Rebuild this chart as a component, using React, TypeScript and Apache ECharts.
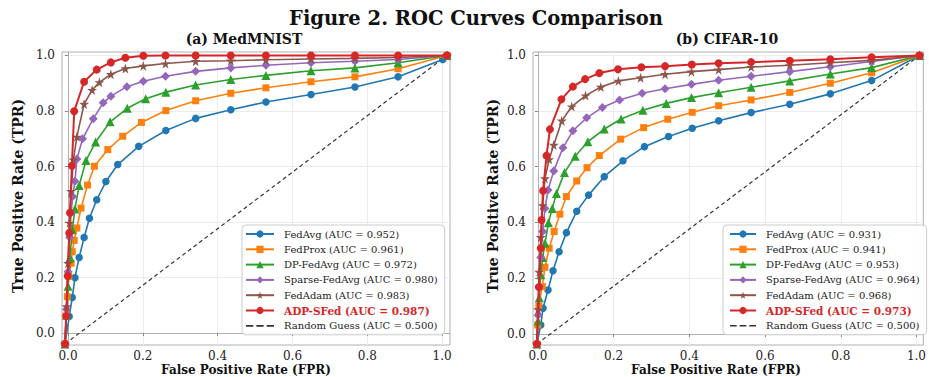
import React, { useEffect, useRef } from 'react';
import * as echarts from 'echarts';

// ---------- data ----------
const methods = ['FedAvg', 'FedProx', 'DP-FedAvg', 'Sparse-FedAvg', 'FedAdam', 'ADP-SFed'];
const aucMed = [0.952, 0.961, 0.972, 0.98, 0.983, 0.987];
const aucCifar = [0.931, 0.941, 0.953, 0.964, 0.968, 0.973];
const tickValues = [0, 0.2, 0.4, 0.6, 0.8, 1.0];
const randomLabel = 'Random Guess (AUC = 0.500)';
const diagonal: [number, number][] = [[0, 0], [1, 1]];

// (a) MedMNIST  [FPR, TPR]
const medFedAvg: [number, number][] = [[0, 0], [0.011, 0.095], [0.019, 0.161], [0.026, 0.23], [0.037, 0.3], [0.05, 0.369], [0.064, 0.436], [0.083, 0.5], [0.107, 0.563], [0.138, 0.622], [0.193, 0.685], [0.264, 0.74], [0.342, 0.782], [0.434, 0.812], [0.526, 0.839], [0.644, 0.865], [0.759, 0.891], [0.872, 0.926], [0.989, 0.986], [1, 1]];
const medFedProx: [number, number][] = [[0, 0], [0.003, 0.097], [0.006, 0.164], [0.01, 0.234], [0.016, 0.28], [0.019, 0.32], [0.024, 0.359], [0.031, 0.402], [0.042, 0.471], [0.059, 0.551], [0.077, 0.616], [0.112, 0.674], [0.151, 0.72], [0.2, 0.768], [0.264, 0.809], [0.342, 0.843], [0.434, 0.869], [0.526, 0.888], [0.644, 0.909], [0.759, 0.926], [0.872, 0.954], [1, 1]];
const medDPFedAvg: [number, number][] = [[0, 0], [0.004, 0.1], [0.008, 0.2], [0.013, 0.3], [0.019, 0.396], [0.026, 0.468], [0.037, 0.549], [0.055, 0.636], [0.08, 0.7], [0.118, 0.77], [0.163, 0.817], [0.211, 0.85], [0.264, 0.873], [0.342, 0.898], [0.434, 0.917], [0.526, 0.931], [0.644, 0.947], [0.759, 0.957], [0.872, 0.975], [1, 1]];
const medSparse: [number, number][] = [[0, 0], [0.004, 0.12], [0.008, 0.25], [0.012, 0.37], [0.016, 0.455], [0.02, 0.511], [0.026, 0.564], [0.031, 0.641], [0.046, 0.711], [0.074, 0.781], [0.1, 0.836], [0.12, 0.859], [0.162, 0.892], [0.205, 0.911], [0.263, 0.928], [0.342, 0.945], [0.434, 0.957], [0.526, 0.966], [0.644, 0.975], [0.759, 0.98], [0.872, 0.986], [1, 1]];
const medFedAdam: [number, number][] = [[0, 0], [0.004, 0.13], [0.008, 0.28], [0.012, 0.42], [0.016, 0.53], [0.022, 0.639], [0.031, 0.718], [0.05, 0.832], [0.071, 0.88], [0.09, 0.907], [0.12, 0.935], [0.158, 0.955], [0.205, 0.964], [0.263, 0.972], [0.342, 0.98], [0.434, 0.982], [0.526, 0.985], [0.644, 0.988], [0.759, 0.99], [0.872, 0.993], [1, 1]];
const medADPSFed: [number, number][] = [[0, 0], [0.003, 0.097], [0.007, 0.236], [0.011, 0.385], [0.013, 0.455], [0.018, 0.618], [0.024, 0.807], [0.05, 0.909], [0.083, 0.951], [0.12, 0.976], [0.158, 0.992], [0.205, 0.999], [0.263, 1.0], [0.342, 1.0], [0.434, 1.0], [0.526, 1.0], [0.644, 1.0], [0.759, 1.0], [0.872, 1.0], [1, 1]];

// (b) CIFAR-10  [FPR, TPR]
const cifFedAvg: [number, number][] = [[0, 0], [0.01, 0.066], [0.016, 0.124], [0.029, 0.187], [0.042, 0.254], [0.058, 0.32], [0.077, 0.386], [0.104, 0.46], [0.135, 0.516], [0.176, 0.58], [0.225, 0.635], [0.281, 0.684], [0.344, 0.719], [0.406, 0.748], [0.475, 0.774], [0.56, 0.802], [0.661, 0.831], [0.767, 0.867], [0.875, 0.913], [1, 1]];
const cifFedProx: [number, number][] = [[0, 0], [0.002, 0.066], [0.005, 0.132], [0.014, 0.199], [0.021, 0.266], [0.032, 0.332], [0.045, 0.39], [0.06, 0.45], [0.077, 0.511], [0.104, 0.565], [0.131, 0.611], [0.163, 0.653], [0.219, 0.71], [0.279, 0.75], [0.342, 0.779], [0.406, 0.803], [0.475, 0.826], [0.56, 0.846], [0.661, 0.872], [0.767, 0.904], [0.875, 0.94], [1, 1]];
const cifDPFedAvg: [number, number][] = [[0, 0], [0.003, 0.08], [0.006, 0.16], [0.01, 0.24], [0.015, 0.3], [0.021, 0.349], [0.03, 0.42], [0.04, 0.47], [0.051, 0.522], [0.072, 0.594], [0.1, 0.651], [0.133, 0.701], [0.176, 0.745], [0.22, 0.78], [0.277, 0.81], [0.338, 0.834], [0.404, 0.854], [0.475, 0.871], [0.56, 0.89], [0.661, 0.912], [0.767, 0.936], [0.875, 0.958], [1, 1]];
const cifSparse: [number, number][] = [[0, 0], [0.003, 0.1], [0.006, 0.2], [0.01, 0.3], [0.015, 0.39], [0.021, 0.47], [0.029, 0.534], [0.044, 0.6], [0.068, 0.68], [0.094, 0.739], [0.13, 0.784], [0.171, 0.82], [0.216, 0.846], [0.275, 0.869], [0.335, 0.885], [0.404, 0.9], [0.475, 0.914], [0.56, 0.928], [0.661, 0.944], [0.767, 0.961], [0.875, 0.979], [1, 1]];
const cifFedAdam: [number, number][] = [[0, 0], [0.003, 0.12], [0.006, 0.25], [0.01, 0.37], [0.015, 0.48], [0.021, 0.574], [0.032, 0.64], [0.044, 0.69], [0.065, 0.774], [0.091, 0.823], [0.127, 0.861], [0.167, 0.891], [0.213, 0.912], [0.271, 0.923], [0.335, 0.935], [0.404, 0.944], [0.475, 0.951], [0.56, 0.96], [0.661, 0.966], [0.767, 0.975], [0.875, 0.983], [1, 1]];
const cifADPSFed: [number, number][] = [[0, 0], [0.005, 0.197], [0.01, 0.332], [0.012, 0.43], [0.016, 0.531], [0.025, 0.653], [0.034, 0.744], [0.064, 0.848], [0.094, 0.892], [0.126, 0.918], [0.163, 0.939], [0.212, 0.952], [0.273, 0.959], [0.335, 0.963], [0.405, 0.969], [0.475, 0.973], [0.56, 0.977], [0.661, 0.982], [0.767, 0.987], [0.875, 0.994], [1, 1]];

const medSeries = [medFedAvg, medFedProx, medDPFedAvg, medSparse, medFedAdam, medADPSFed];
const cifSeries = [cifFedAvg, cifFedProx, cifDPFedAvg, cifSparse, cifFedAdam, cifADPSFed];

// ---------- styles ----------
const FONT = 'DejaVu Serif';
const colors = ['#1f77b4', '#ff7f0e', '#2ca02c', '#9467bd', '#8c564b', '#d62728'];
const STAR = 'path://M50,0 L61,35 L98,35 L68,57 L79,91 L50,70 L21,91 L32,57 L2,35 L39,35 Z';
const symbols = ['circle', 'rect', 'triangle', 'diamond', STAR, 'circle'];
const symbolSizes = [7.5, 7, 9, 9, 10, 8];
const lineWidths = [1.6, 1.6, 1.6, 1.6, 1.6, 2];
const DASH_ICON = 'path://M0,0H7V1.6H0Z M10,0H17V1.6H10Z M20,0H27V1.6H20Z';

function label(i: number, auc: number[]) {
  return `${methods[i]} (AUC = ${auc[i].toFixed(3)})`;
}

function visibleX(grid: number, min: number, max: number) {
  return {
    type: 'value', gridIndex: grid, min, max,
    axisLine: { show: true, lineStyle: { color: '#b0b0b0', width: 1 } },
    axisTick: { show: true, customValues: tickValues, length: 3, lineStyle: { color: '#888' } },
    axisLabel: {
      customValues: tickValues, margin: 5, color: '#222', fontFamily: FONT, fontSize: 12,
      formatter: (v: number) => v.toFixed(1),
    },
    splitLine: { show: true, lineStyle: { color: '#ececec', width: 1 } },
  };
}
function visibleY(grid: number, min: number, max: number) {
  return {
    type: 'value', gridIndex: grid, min, max,
    axisLine: { show: true, lineStyle: { color: '#b0b0b0', width: 1 } },
    axisTick: { show: true, customValues: tickValues, length: 3, lineStyle: { color: '#888' } },
    axisLabel: {
      customValues: tickValues, margin: 7, color: '#222', fontFamily: FONT, fontSize: 12,
      formatter: (v: number) => v.toFixed(1),
    },
    splitLine: { show: true, lineStyle: { color: '#ececec', width: 1 } },
  };
}
function dataAxis(grid: number, min: number, max: number) {
  return { type: 'value', gridIndex: grid, min, max, show: false };
}

function buildSeries(data: [number, number][][], auc: number[], axisIndex: number) {
  const out: any[] = [];
  out.push({
    type: 'line', name: randomLabel, data: diagonal, xAxisIndex: axisIndex, yAxisIndex: axisIndex,
    symbol: 'none', silent: true, z: 1,
    lineStyle: { color: '#333', width: 1.2, type: [4, 3] }, itemStyle: { color: '#333' },
  });
  data.forEach((d, i) => {
    out.push({
      type: 'line', name: label(i, auc), data: d, xAxisIndex: axisIndex, yAxisIndex: axisIndex,
      symbol: symbols[i], symbolSize: symbolSizes[i], showSymbol: true, clip: false, silent: true,
      z: 2 + i,
      lineStyle: { color: colors[i], width: lineWidths[i] },
      itemStyle: { color: colors[i] },
    });
  });
  return out;
}

function buildLegend(auc: number[], left: number, itemWidth: number, padLeft: number) {
  const data: any[] = methods.map((_, i) =>
    i === 5
      ? { name: label(i, auc), textStyle: { color: '#d62728', fontWeight: 'bold', fontSize: 10.5, fontFamily: FONT, lineHeight: 12, padding: [0, 0, 0, 5] } }
      : { name: label(i, auc) }
  );
  data.push({ name: randomLabel, icon: DASH_ICON, itemStyle: { color: '#333', borderWidth: 0 } });
  return {
    orient: 'vertical', left, top: 225, padding: [3, 7, 3, padLeft],
    itemWidth, itemHeight: 9, itemGap: 3.3,
    borderColor: '#cccccc', borderWidth: 1, borderRadius: 4,
    backgroundColor: 'rgba(255,255,255,0.9)',
    selectedMode: false,
    textStyle: { fontFamily: FONT, fontSize: 10, color: '#222', lineHeight: 12, padding: [0, 0, 0, 5] },
    data,
  };
}

function txt(text: string, x: number, y: number, size: number, rotate = 0) {
  return {
    type: 'text', x, y, rotation: rotate, silent: true,
    style: {
      text, fill: '#111', fontFamily: FONT, fontWeight: 'bold', fontSize: size,
      align: 'center', verticalAlign: 'middle',
    },
  };
}

const option: any = {
  animation: false,
  backgroundColor: '#ffffff',
  grid: [
    { left: 62, top: 52, width: 388, height: 293, show: true, borderColor: '#b0b0b0', borderWidth: 1 },
    { left: 533, top: 52, width: 395, height: 293, show: true, borderColor: '#b0b0b0', borderWidth: 1 },
  ],
  xAxis: [
    visibleX(0, -0.016, 1.021),
    dataAxis(0, -0.0079, 1.0079),
    visibleX(1, -0.0131, 1.0183),
    dataAxis(1, -0.0103, 1.0103),
  ],
  yAxis: [
    visibleY(0, -0.0432, 1.0126),
    dataAxis(0, -0.0035, 1.0121),
    visibleY(1, -0.0394, 1.0108),
    dataAxis(1, -0.0035, 1.0121),
  ],
  legend: [
    buildLegend(aucMed, 242, 28, 3),
    buildLegend(aucCifar, 723, 26, 6),
  ],
  series: [
    ...buildSeries(medSeries, aucMed, 1),
    ...buildSeries(cifSeries, aucCifar, 3),
  ],
  graphic: [
    txt('Figure 2. ROC Curves Comparison', 476, 18.5, 19.5),
    txt('(a) MedMNIST', 244, 38.5, 14),
    txt('(b) CIFAR-10', 727, 38.5, 14),
    txt('False Positive Rate (FPR)', 246, 370, 12),
    txt('False Positive Rate (FPR)', 716, 370, 12),
    txt('True Positive Rate (TPR)', 18, 196, 14, Math.PI / 2),
    txt('True Positive Rate (TPR)', 493, 196, 14, Math.PI / 2),
  ],
};

export default function App() {
  const ref = useRef<HTMLDivElement>(null);
  useEffect(() => {
    const chart = echarts.init(ref.current!, null, { renderer: 'svg' });
    chart.setOption(option);
    return () => chart.dispose();
  }, []);
  return (
    <div
      ref={ref}
      style={{ position: 'absolute', left: 0, top: 0, width: 929, height: 377, background: '#fff' }}
    />
  );
}
